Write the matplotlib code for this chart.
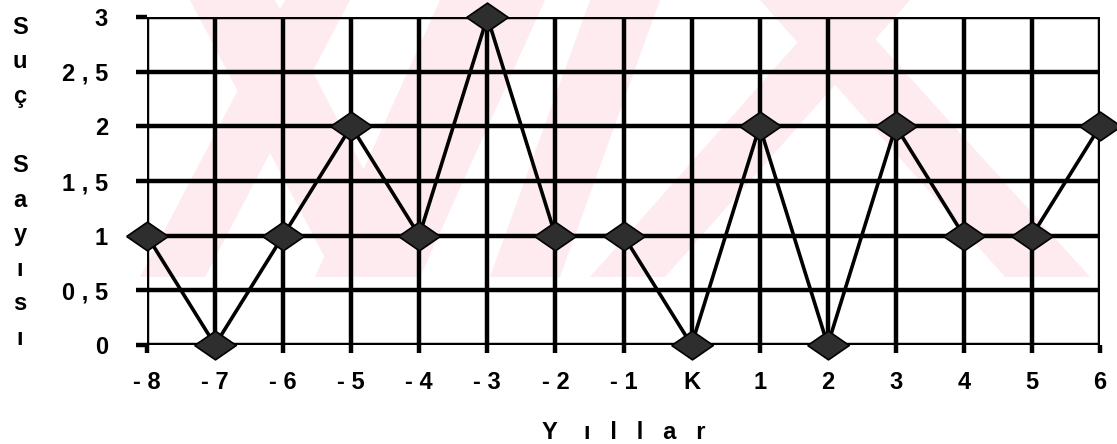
import matplotlib
matplotlib.use("Agg")
import matplotlib.pyplot as plt
from matplotlib.patches import Polygon

plt.rcParams["font.family"] = ["Liberation Sans", "DejaVu Sans"]

years = ["- 8", "- 7", "- 6", "- 5", "- 4", "- 3", "- 2", "- 1", "K",
         "1", "2", "3", "4", "5", "6"]
crimes = [1, 0, 1, 2, 1, 3, 1, 1, 0, 2, 0, 2, 1, 1, 2]
y_ticks = [0, 0.5, 1, 1.5, 2, 2.5, 3]
y_labels = ["0", "0 , 5", "1", "1 , 5", "2", "2 , 5", "3"]

W, H = 1117, 444
fig = plt.figure(figsize=(W / 100, H / 100), dpi=100)


# faint pink watermark behind the chart (pixel coords of the picture)
def px(pts):
    return [(x / W, 1 - y / H) for x, y in pts]


pink = "#fdebef"
bands = [
    [(190, 0), (275, 0), (420, 277), (335, 277)],
    [(440, 0), (545, 0), (420, 277), (315, 277)],
    [(285, 0), (350, 0), (205, 277), (140, 277)],
    [(590, 0), (660, 0), (560, 277), (490, 277)],
    [(835, 0), (910, 0), (665, 277), (590, 277)],
    [(760, 0), (840, 0), (1090, 277), (1005, 277)],
]
for b in bands:
    fig.add_artist(Polygon(px(b), closed=True, transform=fig.transFigure,
                           facecolor=pink, edgecolor="none", zorder=-1))

ax = fig.add_axes([147 / W, 1 - 345 / H, 953 / W, 328 / H])
ax.patch.set_alpha(0)

x = list(range(len(years)))
ax.plot(x, crimes, color="black", lw=2.6, zorder=3, clip_on=False,
        marker=[(-1.45, 0), (0, 1), (1.45, 0), (0, -1), (-1.45, 0)],
        markersize=30, markerfacecolor="#2e2e2e", markeredgecolor="black",
        markeredgewidth=1.2)

ax.set_xlim(0, len(years) - 1)
ax.set_ylim(0, 3)
ax.set_xticks(x)
ax.set_xticklabels(years)
ax.set_yticks(y_ticks)
ax.set_yticklabels(y_labels)
ax.grid(True, color="black", lw=3.2)
ax.set_axisbelow(True)
for s in ax.spines.values():
    s.set_visible(False)

ax.tick_params(axis="y", length=8, width=3.2, pad=20, labelsize=17)
ax.tick_params(axis="x", length=6, width=3.2, pad=13, labelsize=17)
for t in ax.get_xticklabels() + ax.get_yticklabels():
    t.set_fontweight("bold")

fig.text(624 / W, 1 - 432 / H, "Y    ı   l   l   a   r", fontsize=17,
         fontweight="bold", ha="center", va="center")

letters = ["S", "u", "ç", "", "S", "a", "y", "ı", "s", "ı"]
for i, ch in enumerate(letters):
    fig.text(20 / W, 1 - (27 + i * 34.6) / H, ch, fontsize=17,
             fontweight="bold", ha="center", va="center")

fig.savefig("out.png", dpi=100)
